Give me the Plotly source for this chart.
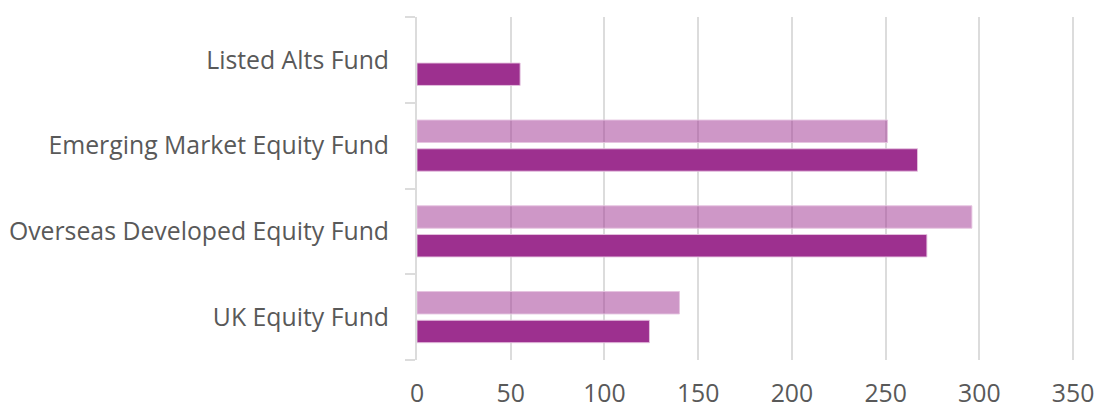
import plotly.graph_objects as go

# categories, bottom to top
funds = ["UK Equity Fund", "Overseas Developed Equity Fund",
         "Emerging Market Equity Fund", "Listed Alts Fund"]
# dark series (lower bar in each group)
series_dark = [124, 272, 267, 55]
# light series (upper bar in each group)
series_light = [140, 296, 251, None]
x_ticks = [0, 50, 100, 150, 200, 250, 300, 350]

DARK = "rgb(157,48,143)"
LIGHT = "rgba(157,48,143,0.5)"
GRID = "#DCDCDC"
TEXT = "#595959"

fig = go.Figure()
fig.add_trace(go.Bar(y=funds, x=series_dark, orientation="h", name="dark",
                     marker=dict(color=DARK, line=dict(color="rgba(230,195,224,0.9)", width=1))))
fig.add_trace(go.Bar(y=funds, x=series_light, orientation="h", name="light",
                     marker=dict(color=LIGHT, line=dict(color="rgba(230,195,224,0.9)", width=1))))

fig.update_layout(
    width=1097, height=410,
    margin=dict(l=417, r=22, t=17, b=50),
    plot_bgcolor="white", paper_bgcolor="white",
    barmode="group", bargap=0.33, bargroupgap=0.22,
    showlegend=False,
    font=dict(family="Open Sans", size=24.8, color=TEXT),
)
fig.update_xaxes(range=[0, 351], tickvals=x_ticks, showgrid=True, gridcolor=GRID,
                 gridwidth=2, zeroline=False, showline=False, ticks="",
                 ticklabelstandoff=16, automargin=False)
fig.update_yaxes(categoryorder="array", categoryarray=funds, range=[-0.5, 3.5],
                 showline=True, linecolor=GRID, linewidth=2, showgrid=False,
                 ticks="outside", tickson="boundaries", ticklen=10,
                 tickcolor=GRID, tickwidth=2, ticklabelstandoff=21,
                 automargin=False)

# drop the page's default body margin so the figure fills the window
fig.write_html("out.html", config={"displayModeBar": False},
               post_script="document.body.style.margin='0';")
